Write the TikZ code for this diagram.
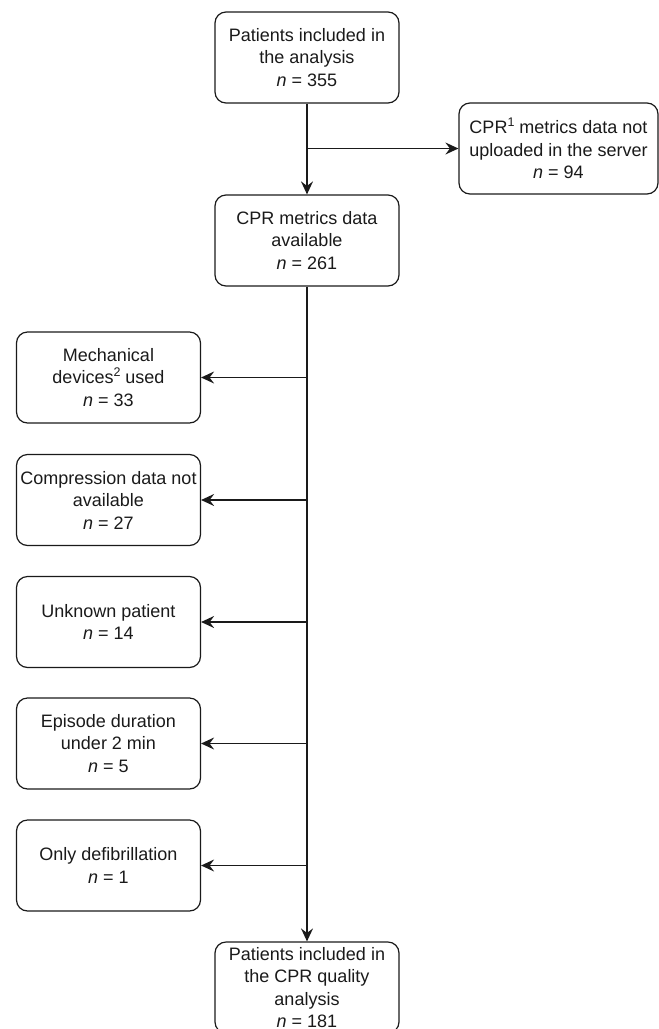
\documentclass[tikz,border=0pt]{standalone}
\usepackage{fontspec}
\setmainfont{Liberation Sans}
\usetikzlibrary{arrows.meta}
\definecolor{ink}{HTML}{1A1A1A}
\newcommand{\supnum}[1]{\raisebox{7.5pt}{\fontsize{12.5}{12.5}\selectfont #1}}
\begin{document}
\begin{tikzpicture}[x=1pt,y=-1pt,
  box/.style={draw=ink, line width=1.2pt, rounded corners=11pt, minimum width=184pt, minimum height=91pt,
    inner sep=0pt, align=center, text=ink, font=\fontsize{18}{22.5}\selectfont},
  conn/.style={draw=ink, line width=1.4pt, -{Stealth[length=13pt,width=12pt,inset=4.5pt]}}]
\useasboundingbox (0,0) rectangle (659,1029);
\clip (0,0) rectangle (659,1029);
\node[box] (top) at (307,57.5) {Patients included in\\the analysis\\\textit{n} = 355};
\node[box, minimum width=199pt] (right) at (558.5,148.5) {CPR\supnum{1} metrics data not\\uploaded in the server\\\textit{n} = 94};
\node[box] (cpr) at (307,240.5) {CPR metrics data\\available\\\textit{n} = 261};
\node[box] (mech) at (108.5,377.5) {Mechanical\\devices\supnum{2} used\\\textit{n} = 33};
\node[box] (comp) at (108.5,500) {Compression data not\\available\\\textit{n} = 27};
\node[box] (unk) at (108.5,622) {Unknown patient\\\textit{n} = 14};
\node[box] (epi) at (108.5,743.5) {Episode duration\\under 2 min\\\textit{n} = 5};
\node[box] (only) at (108.5,865.5) {Only defibrillation\\\textit{n} = 1};
\node[box] (bot) at (307,987.5) {Patients included in\\the CPR quality\\analysis\\\textit{n} = 181};
\coordinate (b1) at (top.south |- right.west);
\draw[conn] (top.south) -- (cpr.north);
\draw[conn] (b1) -- (right.west);
\draw[conn] (cpr.south) -- (bot.north);
\foreach \n in {mech,comp,unk,epi,only}{
  \draw[conn] (cpr.south |- \n.east) -- (\n.east);
}
\end{tikzpicture}
\end{document}
